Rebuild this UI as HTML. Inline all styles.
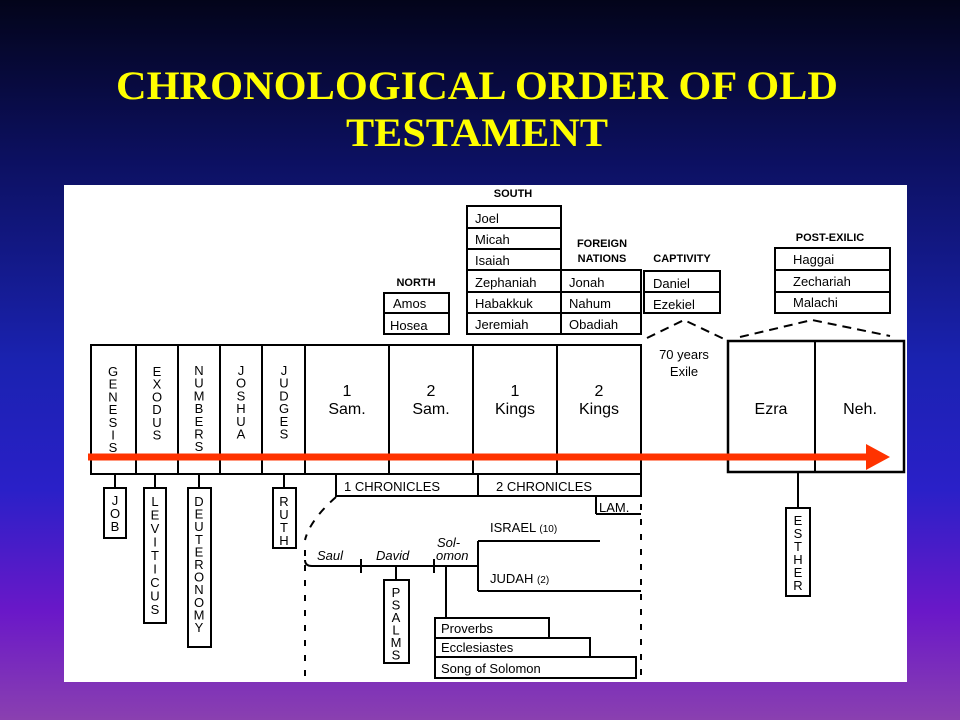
<!DOCTYPE html>
<html><head><meta charset="utf-8"><style>
html,body{margin:0;padding:0;width:960px;height:720px;overflow:hidden}
body{background:linear-gradient(180deg,#03041a 0%,#0c1060 22%,#1a22b0 50%,#2a20c8 68%,#6a18c8 85%,#8a40b0 100%)}
</style></head><body>
<svg width="960" height="720" xmlns="http://www.w3.org/2000/svg" style="position:absolute;left:0;top:0">
<g font-family="Liberation Serif, serif" font-weight="bold" fill="#ffff00" font-size="40" text-anchor="middle">
<text x="477" y="99" textLength="722" lengthAdjust="spacingAndGlyphs">CHRONOLOGICAL ORDER OF OLD</text>
<text x="477" y="146" textLength="262" lengthAdjust="spacingAndGlyphs">TESTAMENT</text>
</g>
<rect x="64" y="185" width="843" height="497" fill="#fff"/>
<g stroke="#000" stroke-width="2" fill="none">
<rect x="91" y="345" width="550" height="129"/>
<line x1="136" y1="345" x2="136" y2="474"/><line x1="178" y1="345" x2="178" y2="474"/>
<line x1="220" y1="345" x2="220" y2="474"/><line x1="262" y1="345" x2="262" y2="474"/>
<line x1="305" y1="345" x2="305" y2="474"/><line x1="389" y1="345" x2="389" y2="474"/>
<line x1="473" y1="345" x2="473" y2="474"/><line x1="557" y1="345" x2="557" y2="474"/>
<rect x="728" y="341" width="176" height="131" stroke-width="2.5"/>
<line x1="815" y1="341" x2="815" y2="472"/>
<rect x="384" y="293" width="65" height="41"/><line x1="384" y1="313" x2="449" y2="313"/>
<rect x="467" y="206" width="94" height="128"/>
<line x1="467" y1="228" x2="561" y2="228"/><line x1="467" y1="249" x2="561" y2="249"/>
<line x1="467" y1="270" x2="561" y2="270"/><line x1="467" y1="292" x2="561" y2="292"/>
<line x1="467" y1="313" x2="561" y2="313"/>
<rect x="561" y="270" width="80" height="64"/><line x1="561" y1="292" x2="641" y2="292"/><line x1="561" y1="313" x2="641" y2="313"/>
<rect x="644" y="271" width="76" height="42"/><line x1="644" y1="292" x2="720" y2="292"/>
<rect x="775" y="248" width="115" height="65"/><line x1="775" y1="270" x2="890" y2="270"/><line x1="775" y1="292" x2="890" y2="292"/>
<polyline points="647,338 684,320 724,339" stroke-dasharray="9,6"/>
<polyline points="740,337 812,320 890,336" stroke-dasharray="9,6"/>
<rect x="336" y="474" width="305" height="22"/><line x1="478" y1="474" x2="478" y2="496"/>
<polyline points="596,514 596,496"/><line x1="596" y1="514" x2="641" y2="514"/>
<line x1="115" y1="474" x2="115" y2="488"/><rect x="104" y="488" width="22" height="50"/>
<line x1="155" y1="474" x2="155" y2="488"/><rect x="144" y="488" width="22" height="135"/>
<line x1="199" y1="474" x2="199" y2="488"/><rect x="188" y="488" width="23" height="159"/>
<line x1="284" y1="474" x2="284" y2="488"/><rect x="273" y="488" width="23" height="60"/>
<line x1="798" y1="472" x2="798" y2="508"/><rect x="786" y="508" width="24" height="88"/>
<path d="M336,497 Q310,520 305,540" stroke-dasharray="8,8"/>
<line x1="305" y1="550" x2="305" y2="682" stroke-dasharray="6,9"/>
<line x1="641" y1="474" x2="641" y2="682" stroke-dasharray="6,9"/>
<path d="M305,560 Q305,566 312,566 L478,566"/>
<line x1="361" y1="559" x2="361" y2="573"/><line x1="434" y1="559" x2="434" y2="573"/>
<line x1="478" y1="541" x2="478" y2="591"/><line x1="478" y1="541" x2="600" y2="541"/><line x1="478" y1="591" x2="641" y2="591"/>
<line x1="396" y1="566" x2="396" y2="580"/><rect x="384" y="580" width="25" height="83"/>
<line x1="446" y1="566" x2="446" y2="618"/>
<rect x="435" y="618" width="114" height="20"/><rect x="435" y="638" width="155" height="19"/><rect x="435" y="657" width="201" height="21"/>
</g>
<line x1="88" y1="457" x2="872" y2="457" stroke="#ff3300" stroke-width="7"/>
<polygon points="866,444 890,457 866,470" fill="#ff3300"/>
<g font-family="Liberation Sans, sans-serif" fill="#000">
<g font-size="11" font-weight="bold" text-anchor="middle">
<text x="416" y="286">NORTH</text><text x="513" y="197">SOUTH</text>
<text x="602" y="247">FOREIGN</text><text x="602" y="262">NATIONS</text>
<text x="682" y="262">CAPTIVITY</text><text x="830" y="241">POST-EXILIC</text>
</g>
<g font-size="13">
<text x="393" y="308">Amos</text><text x="390" y="330">Hosea</text>
<text x="475" y="223">Joel</text><text x="475" y="244">Micah</text><text x="475" y="265">Isaiah</text>
<text x="475" y="287">Zephaniah</text><text x="475" y="308">Habakkuk</text><text x="475" y="329">Jeremiah</text>
<text x="569" y="287">Jonah</text><text x="569" y="308">Nahum</text><text x="569" y="329">Obadiah</text>
<text x="653" y="288">Daniel</text><text x="653" y="309">Ezekiel</text>
<text x="793" y="264">Haggai</text><text x="793" y="286">Zechariah</text><text x="793" y="307">Malachi</text>
<text x="441" y="633">Proverbs</text><text x="441" y="652">Ecclesiastes</text><text x="441" y="673">Song of Solomon</text>
<text x="344" y="491">1 CHRONICLES</text><text x="496" y="491">2 CHRONICLES</text>
<text x="599" y="512">LAM.</text>
<text x="490" y="532">ISRAEL <tspan font-size="10">(10)</tspan></text>
<text x="490" y="583">JUDAH <tspan font-size="10">(2)</tspan></text>
</g>
<g font-size="13" font-style="italic">
<text x="317" y="560">Saul</text><text x="376" y="560">David</text>
<text x="437" y="547">Sol-</text><text x="436" y="560">omon</text>
</g>
<g font-size="13" text-anchor="middle">
<text x="684" y="359">70 years</text><text x="684" y="376">Exile</text>
</g>
<g font-size="16" text-anchor="middle">
<text x="347" y="396">1</text><text x="347" y="414">Sam.</text>
<text x="431" y="396">2</text><text x="431" y="414">Sam.</text>
<text x="515" y="396">1</text><text x="515" y="414">Kings</text>
<text x="599" y="396">2</text><text x="599" y="414">Kings</text>
<text x="771" y="414">Ezra</text><text x="860" y="414">Neh.</text>
</g>
<g font-size="13" text-anchor="middle">
<text x="113" y="376"><tspan x="113">G</tspan><tspan x="113" dy="12.7">E</tspan><tspan x="113" dy="12.7">N</tspan><tspan x="113" dy="12.7">E</tspan><tspan x="113" dy="12.7">S</tspan><tspan x="113" dy="12.7">I</tspan><tspan x="113" dy="12.7">S</tspan></text>
<text x="157" y="376"><tspan x="157">E</tspan><tspan x="157" dy="12.7">X</tspan><tspan x="157" dy="12.7">O</tspan><tspan x="157" dy="12.7">D</tspan><tspan x="157" dy="12.7">U</tspan><tspan x="157" dy="12.7">S</tspan></text>
<text x="199" y="375"><tspan x="199">N</tspan><tspan x="199" dy="12.7">U</tspan><tspan x="199" dy="12.7">M</tspan><tspan x="199" dy="12.7">B</tspan><tspan x="199" dy="12.7">E</tspan><tspan x="199" dy="12.7">R</tspan><tspan x="199" dy="12.7">S</tspan></text>
<text x="241" y="375"><tspan x="241">J</tspan><tspan x="241" dy="12.7">O</tspan><tspan x="241" dy="12.7">S</tspan><tspan x="241" dy="12.7">H</tspan><tspan x="241" dy="12.7">U</tspan><tspan x="241" dy="12.7">A</tspan></text>
<text x="284" y="375"><tspan x="284">J</tspan><tspan x="284" dy="12.7">U</tspan><tspan x="284" dy="12.7">D</tspan><tspan x="284" dy="12.7">G</tspan><tspan x="284" dy="12.7">E</tspan><tspan x="284" dy="12.7">S</tspan></text>
<text x="115" y="505"><tspan x="115">J</tspan><tspan x="115" dy="13">O</tspan><tspan x="115" dy="13">B</tspan></text>
<text x="155" y="506"><tspan x="155">L</tspan><tspan x="155" dy="13.5">E</tspan><tspan x="155" dy="13.5">V</tspan><tspan x="155" dy="13.5">I</tspan><tspan x="155" dy="13.5">T</tspan><tspan x="155" dy="13.5">I</tspan><tspan x="155" dy="13.5">C</tspan><tspan x="155" dy="13.5">U</tspan><tspan x="155" dy="13.5">S</tspan></text>
<text x="199" y="506"><tspan x="199">D</tspan><tspan x="199" dy="12.6">E</tspan><tspan x="199" dy="12.6">U</tspan><tspan x="199" dy="12.6">T</tspan><tspan x="199" dy="12.6">E</tspan><tspan x="199" dy="12.6">R</tspan><tspan x="199" dy="12.6">O</tspan><tspan x="199" dy="12.6">N</tspan><tspan x="199" dy="12.6">O</tspan><tspan x="199" dy="12.6">M</tspan><tspan x="199" dy="12.6">Y</tspan></text>
<text x="284" y="506"><tspan x="284">R</tspan><tspan x="284" dy="13">U</tspan><tspan x="284" dy="13">T</tspan><tspan x="284" dy="13">H</tspan></text>
<text x="396" y="597"><tspan x="396">P</tspan><tspan x="396" dy="12.5">S</tspan><tspan x="396" dy="12.5">A</tspan><tspan x="396" dy="12.5">L</tspan><tspan x="396" dy="12.5">M</tspan><tspan x="396" dy="12.5">S</tspan></text>
<text x="798" y="525"><tspan x="798">E</tspan><tspan x="798" dy="13">S</tspan><tspan x="798" dy="13">T</tspan><tspan x="798" dy="13">H</tspan><tspan x="798" dy="13">E</tspan><tspan x="798" dy="13">R</tspan></text>
</g>
</g>
</svg>
</body></html>
